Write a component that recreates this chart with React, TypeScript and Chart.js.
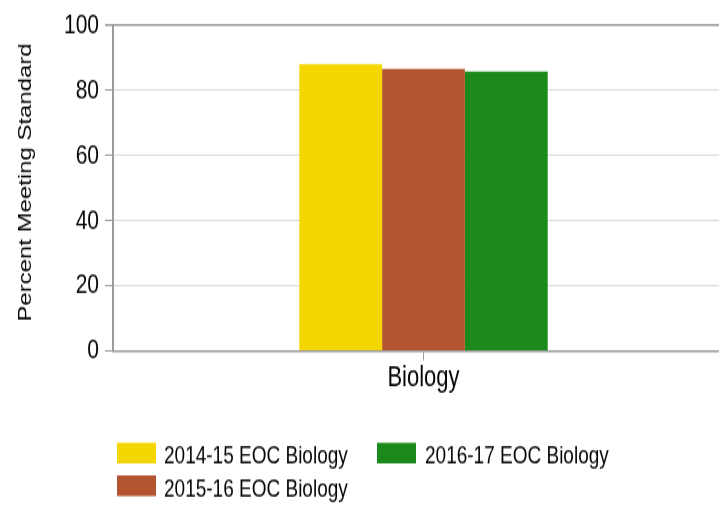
import React, { useEffect, useRef } from 'react';
import { Chart, registerables } from 'chart.js';

Chart.register(...registerables);

// ---- data ----
const categories = ['Biology'];
const seriesLabels = ['2014-15 EOC Biology', '2015-16 EOC Biology', '2016-17 EOC Biology'];
const values201415 = [88.0];
const values201516 = [86.6];
const values201617 = [85.8];
const seriesColors = ['#F4D700', '#B45531', '#1B8A1A'];
const yMin = 0;
const yMax = 100;
const yStep = 20;
const yAxisTitle = 'Percent Meeting Standard';

// ---- layout (logical canvas; stretched vertically by CSS like the reference) ----
const W = 735;
const H = 380;
const FONT = "'Liberation Sans', Arial, sans-serif";
const TEXT = '#050505';

// legend slots: [seriesIndex, boxX, textX, baselineY]
const legendSlots: [number, number, number, number][] = [
  [0, 117, 164, 348],
  [2, 377, 425, 348],
  [1, 117, 164, 372.5],
];

const extrasPlugin = {
  id: 'extras',
  afterDraw(chart: any) {
    const ctx = chart.ctx as CanvasRenderingContext2D;
    ctx.save();
    // y axis title
    ctx.save();
    ctx.translate(31, 137);
    ctx.rotate(-Math.PI / 2);
    ctx.font = `18px ${FONT}`;
    ctx.fillStyle = TEXT;
    ctx.textAlign = 'center';
    ctx.textBaseline = 'alphabetic';
    ctx.fillText(yAxisTitle, 0, 0);
    ctx.restore();
    // legend
    ctx.font = `19px ${FONT}`;
    ctx.textAlign = 'left';
    ctx.textBaseline = 'alphabetic';
    for (const [i, bx, tx, by] of legendSlots) {
      const ds = chart.data.datasets[i];
      ctx.fillStyle = ds.backgroundColor;
      ctx.fillRect(bx, by - 15.5, 39, 15.5);
      ctx.fillStyle = TEXT;
      ctx.fillText(ds.label, tx, by);
    }
    ctx.restore();
  },
};

export default function App() {
  const ref = useRef<HTMLCanvasElement>(null);

  useEffect(() => {
    const canvas = ref.current!;
    const chart = new Chart(canvas, {
      type: 'bar',
      data: {
        labels: categories,
        datasets: [
          { label: seriesLabels[0], data: values201415, backgroundColor: seriesColors[0] },
          { label: seriesLabels[1], data: values201516, backgroundColor: seriesColors[1] },
          { label: seriesLabels[2], data: values201617, backgroundColor: seriesColors[2] },
        ],
      },
      options: {
        responsive: false,
        animation: false,
        devicePixelRatio: 1,
        layout: { padding: { top: 19, right: 1, left: 0, bottom: 0 } },
        datasets: {
          bar: { barPercentage: 1, categoryPercentage: 0.4, borderWidth: 0 },
        },
        plugins: {
          legend: { display: false },
          tooltip: { enabled: false },
          title: { display: false },
        },
        scales: {
          x: {
            afterFit: (s: any) => {
              s.height = H - 263.6;
            },
            grid: {
              display: true,
              offset: false,
              drawOnChartArea: false,
              drawTicks: true,
              tickLength: 7,
              color: '#9a9a9a',
              tickColor: '#9a9a9a',
            },
            border: { display: true, color: '#9a9a9a', width: 1.5 },
            ticks: {
              padding: 0,
              color: TEXT,
              font: { family: FONT, size: 22 },
            },
          },
          y: {
            min: yMin,
            max: yMax,
            afterFit: (s: any) => {
              s.width = 113;
            },
            ticks: {
              stepSize: yStep,
              padding: 6,
              color: TEXT,
              font: { family: FONT, size: 21 },
            },
            grid: {
              color: (c: any) => (c.tick && c.tick.value === yMax ? '#9a9a9a' : '#dadada'),
              lineWidth: (c: any) => (c.tick && c.tick.value === yMax ? 1.5 : 1),
              tickColor: '#9a9a9a',
              tickLength: 8,
              drawTicks: true,
            },
            border: { display: true, color: '#9a9a9a', width: 2 },
          },
        },
      },
      plugins: [extrasPlugin],
    });
    return () => chart.destroy();
  }, []);

  return (
    <div
      style={{
        position: 'absolute',
        left: 0,
        top: 0,
        width: 719,
        height: 506,
        overflow: 'hidden',
        background: '#fff',
      }}
    >
      <canvas
        ref={ref}
        width={W}
        height={H}
        style={{ display: 'block', width: `${W}px`, height: '506px' }}
      />
    </div>
  );
}
